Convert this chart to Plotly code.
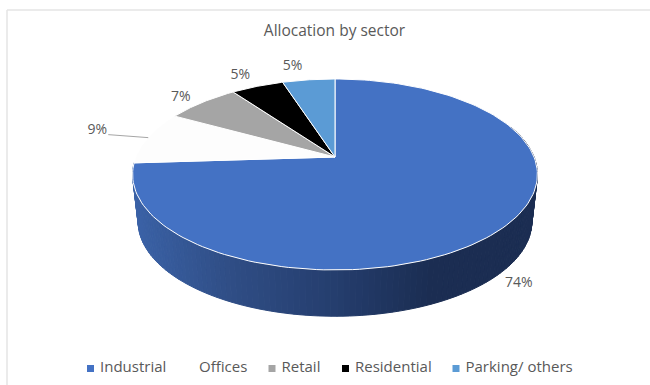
import numpy as np
import plotly.graph_objects as go

# Portfolio split by sector
sectors = ["Industrial", "Offices", "Retail", "Residential", "Parking/ others"]
shares = [74, 9, 7, 5, 5]
title_text = "Allocation by sector"

slice_colors = ["#4472C4", "#FDFDFD", "#A5A5A5", "#000000", "#5B9BD5"]
legend_colors = ["#4472C4", "#FFFFFF", "#A5A5A5", "#000000", "#5B9BD5"]
TEXT_COLOR = "#595959"

# Tilted-disc projection, in page pixels
CX = 335.0
TOP_Y, TOP_RX, TOP_RY = 157.0, 199.0, 92.3
BASE_Y, BASE_RX, BASE_RY = 204.5, 193.5, 91.3
TILT = 0.183

# Wall shading along the horizontal position
SHADE_X = [130, 230, 335, 430, 540]
SHADE_R = [60, 48, 37, 27, 27]
SHADE_G = [100, 78, 62, 45, 45]
SHADE_B = [170, 134, 110, 82, 82]

# Label offset from the rim point at the middle of each slice
LABEL_DX = [18, -51, -21, -17, -16]
LABEL_DY = [54, -7, -5, -11, -13]
LEGEND_TEXT_X = [100, 199, 281.5, 355, 465.5]
LEGEND_Y = 368.5


def project(theta, cy, rx, ry):
    u, v = np.sin(theta), np.cos(theta)
    w = 1 + TILT * v
    return CX + rx * u / w, cy - ry * v / w


edges = np.radians(np.cumsum([0] + shares) / sum(shares) * 360)
mids = (edges[:-1] + edges[1:]) / 2

fig = go.Figure()

# Wall of the first slice, drawn as thin shaded strips
wall = np.radians(np.arange(70, np.degrees(edges[1]) + 0.01, 1.5))
wall = np.append(wall, edges[1])
for a, b in zip(wall[:-1], wall[1:]):
    arc = np.array([a, b])
    tx, ty = project(arc, TOP_Y, TOP_RX, TOP_RY)
    bx, by = project(arc, BASE_Y, BASE_RX, BASE_RY)
    xmid = float(np.mean(bx))
    rgb = [int(np.interp(xmid, SHADE_X, c)) for c in (SHADE_R, SHADE_G, SHADE_B)]
    color = f"rgb({rgb[0]},{rgb[1]},{rgb[2]})"
    fig.add_trace(go.Scatter(
        x=[tx[0], tx[1], bx[1], bx[0], tx[0]],
        y=[ty[0], ty[1], by[1], by[0], ty[0]],
        mode="lines", fill="toself", fillcolor=color,
        line=dict(color=color, width=1), hoverinfo="skip", showlegend=False,
    ))

# Top faces of the slices
for i, name in enumerate(sectors):
    arc = np.linspace(edges[i], edges[i + 1], 160)
    ax, ay = project(arc, TOP_Y, TOP_RX, TOP_RY)
    fig.add_trace(go.Scatter(
        x=np.r_[CX, ax, CX], y=np.r_[TOP_Y, ay, TOP_Y],
        mode="lines", fill="toself", fillcolor=slice_colors[i],
        line=dict(color="#FFFFFF", width=1), name=name,
        hovertemplate=f"{name}: {shares[i]}%<extra></extra>", showlegend=False,
    ))

# Leader line for the Offices label
lx, ly = project(mids[1], TOP_Y, TOP_RX, TOP_RY)
fig.add_trace(go.Scatter(
    x=[lx, lx + LABEL_DX[1] + 11], y=[ly, ly + LABEL_DY[1] + 4],
    mode="lines", line=dict(color="#A6A6A6", width=1),
    hoverinfo="skip", showlegend=False,
))

# Percentage labels
rim_x, rim_y = project(mids, TOP_Y, TOP_RX, TOP_RY)
fig.add_trace(go.Scatter(
    x=rim_x + np.array(LABEL_DX), y=rim_y + np.array(LABEL_DY),
    mode="text", text=[f"{v}%" for v in shares],
    textposition="middle center",
    textfont=dict(family="Open Sans", size=14, color=TEXT_COLOR),
    hoverinfo="skip", showlegend=False,
))

# Legend row
fig.add_trace(go.Scatter(
    x=[t - 9.5 for t in LEGEND_TEXT_X], y=[LEGEND_Y] * len(sectors),
    mode="markers",
    marker=dict(symbol="square", size=7, color=legend_colors, line=dict(width=0)),
    hoverinfo="skip", showlegend=False,
))
fig.add_trace(go.Scatter(
    x=LEGEND_TEXT_X, y=[LEGEND_Y] * len(sectors),
    mode="text", text=sectors, textposition="middle right",
    textfont=dict(family="Open Sans", size=15, color=TEXT_COLOR),
    hoverinfo="skip", showlegend=False,
))

# Title
fig.add_trace(go.Scatter(
    x=[334.5], y=[32], mode="text", text=[title_text], textposition="middle center",
    textfont=dict(family="Open Sans", size=15.5, color=TEXT_COLOR),
    hoverinfo="skip", showlegend=False,
))

fig.update_layout(
    width=650, height=385, margin=dict(l=0, r=0, t=0, b=0),
    paper_bgcolor="#FFFFFF", plot_bgcolor="#FFFFFF", showlegend=False,
    xaxis=dict(range=[0, 650], visible=False, fixedrange=True),
    yaxis=dict(range=[385, 0], visible=False, fixedrange=True),
    shapes=[
        dict(type="line", xref="x", yref="y", x0=7, y0=10, x1=650, y1=10,
             line=dict(color="#E4E4E4", width=1.5)),
        dict(type="line", xref="x", yref="y", x0=7, y0=10, x1=7, y1=385,
             line=dict(color="#E4E4E4", width=1.5)),
    ],
)

fig.write_html("out.html", config={"displayModeBar": False})
